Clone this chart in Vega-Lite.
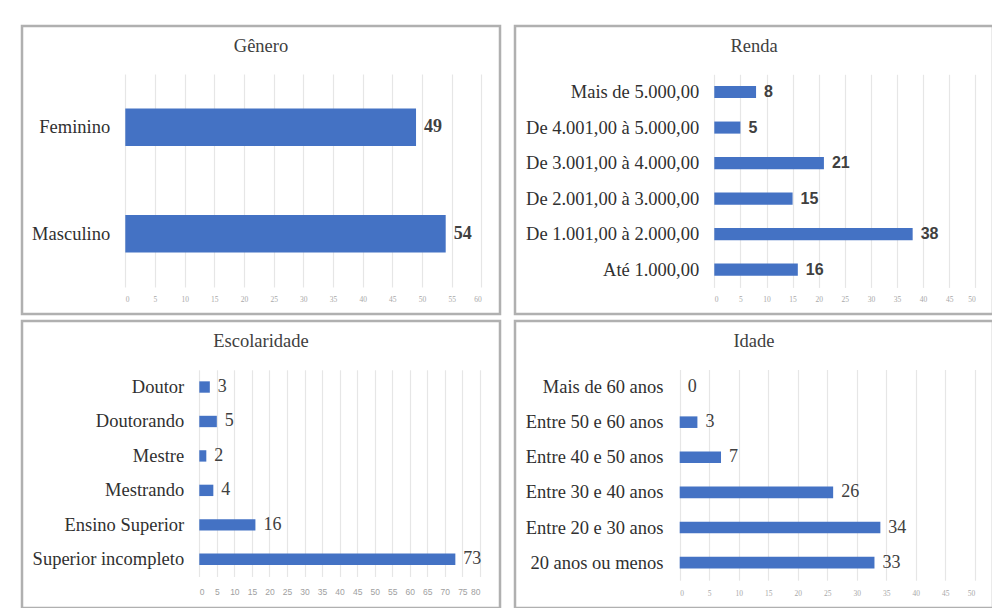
{
  "$schema": "https://vega.github.io/schema/vega-lite/v6.json",
  "padding": {"left": 20, "top": 24, "right": 0, "bottom": 0},
  "background": "white",
  "bounds": "flush",
  "config": {
    "view": {"stroke": "#b0b0b0", "strokeWidth": 2.5},
    "font": "Liberation Serif",
    "title": {"font": "Liberation Serif", "fontSize": 18.5, "fontWeight": "normal", "color": "#404040", "anchor": "middle", "frame": "group", "offset": -29}
  },
  "concat": [
    {
      "width": 478, "height": 288,
      "title": {"text": "Gênero"},
      "data": {"values": [
        {"cat": "Feminino", "n": 49},
        {"cat": "Masculino", "n": 54}
      ]},
      "encoding": {
        "y": {"field": "cat", "type": "nominal", "sort": null,
          "scale": {"range": [48, 261], "paddingInner": 0.65, "paddingOuter": 0.325},
          "axis": {"title": null, "domain": false, "ticks": false, "tickSize": 0, "offset": -91.7, "labelPadding": 4, "labelFont": "Liberation Serif", "labelFontSize": 18.5, "labelColor": "#303030", "labelLimit": 300}},
        "x": {"field": "n", "type": "quantitative",
          "scale": {"domain": [0, 60], "range": [103.3, 459.3], "nice": false},
          "axis": {"orient": "top", "title": null, "domain": false, "ticks": false, "tickSize": 0, "labelPadding": -273.7, "labelBaseline": "middle", "labelFont": "Liberation Serif", "labelFontSize": 7.5, "labelColor": "#a8a8a8", "values": [0,5,10,15,20,25,30,35,40,45,50,55,60], "grid": true, "gridColor": "#e6e6e6", "gridWidth": 1.2}}
      },
      "layer": [
        {"mark": {"type": "bar", "color": "#4472C4"}},
        {"mark": {"type": "text", "align": "left", "baseline": "middle", "dx": 8, "font": "Liberation Serif", "fontSize": 18, "fontWeight": "bold", "color": "#404040"},
         "encoding": {"text": {"field": "n", "type": "quantitative"}}}
      ]
    },
    {
      "width": 478, "height": 288,
      "title": {"text": "Renda"},
      "data": {"values": [
        {"cat": "Mais de 5.000,00", "n": 8},
        {"cat": "De 4.001,00 à 5.000,00", "n": 5},
        {"cat": "De 3.001,00 à 4.000,00", "n": 21},
        {"cat": "De 2.001,00 à 3.000,00", "n": 15},
        {"cat": "De 1.001,00 à 2.000,00", "n": 38},
        {"cat": "Até 1.000,00", "n": 16}
      ]},
      "encoding": {
        "y": {"field": "cat", "type": "nominal", "sort": null,
          "scale": {"range": [48.3, 261.4], "paddingInner": 0.66, "paddingOuter": 0.33},
          "axis": {"title": null, "domain": false, "ticks": false, "tickSize": 0, "offset": -187.7, "labelPadding": 4, "labelFont": "Liberation Serif", "labelFontSize": 18.5, "labelColor": "#303030", "labelLimit": 300}},
        "x": {"field": "n", "type": "quantitative",
          "scale": {"domain": [0, 50], "range": [199.3, 460.3], "nice": false},
          "axis": {"orient": "top", "title": null, "domain": false, "ticks": false, "tickSize": 0, "labelPadding": -273.7, "labelBaseline": "middle", "labelFont": "Liberation Serif", "labelFontSize": 7.5, "labelColor": "#a8a8a8", "values": [0,5,10,15,20,25,30,35,40,45,50], "grid": true, "gridColor": "#e6e6e6", "gridWidth": 1.2}}
      },
      "layer": [
        {"mark": {"type": "bar", "color": "#4472C4"}},
        {"mark": {"type": "text", "align": "left", "baseline": "middle", "dx": 8, "font": "Liberation Sans", "fontSize": 16, "fontWeight": "bold", "color": "#404040"},
         "encoding": {"text": {"field": "n", "type": "quantitative"}}}
      ]
    },
    {
      "width": 478, "height": 287,
      "title": {"text": "Escolaridade"},
      "data": {"values": [
        {"cat": "Doutor", "n": 3},
        {"cat": "Doutorando", "n": 5},
        {"cat": "Mestre", "n": 2},
        {"cat": "Mestrando", "n": 4},
        {"cat": "Ensino Superior", "n": 16},
        {"cat": "Superior incompleto", "n": 73}
      ]},
      "encoding": {
        "y": {"field": "cat", "type": "nominal", "sort": null,
          "scale": {"range": [48.8, 255.5], "paddingInner": 0.67, "paddingOuter": 0.335},
          "axis": {"title": null, "domain": false, "ticks": false, "tickSize": 0, "offset": -165.7, "labelPadding": 4, "labelFont": "Liberation Serif", "labelFontSize": 18.5, "labelColor": "#303030", "labelLimit": 300}},
        "x": {"field": "n", "type": "quantitative",
          "scale": {"domain": [0, 80], "range": [177.3, 457.9], "nice": false},
          "axis": {"orient": "top", "title": null, "domain": false, "ticks": false, "tickSize": 0, "labelPadding": -270.3, "labelBaseline": "middle", "labelFont": "Liberation Sans", "labelFontSize": 8.5, "labelColor": "#a0a0a0", "values": [0,5,10,15,20,25,30,35,40,45,50,55,60,65,70,75,80], "grid": true, "gridColor": "#e6e6e6", "gridWidth": 1.2}}
      },
      "layer": [
        {"mark": {"type": "bar", "color": "#4472C4"}},
        {"mark": {"type": "text", "align": "left", "baseline": "middle", "dx": 8, "font": "Liberation Serif", "fontSize": 18, "color": "#404040"},
         "encoding": {"text": {"field": "n", "type": "quantitative"}}}
      ]
    },
    {
      "width": 478, "height": 287,
      "title": {"text": "Idade"},
      "data": {"values": [
        {"cat": "Mais de 60 anos", "n": 0},
        {"cat": "Entre 50 e 60 anos", "n": 3},
        {"cat": "Entre 40 e 50 anos", "n": 7},
        {"cat": "Entre 30 e 40 anos", "n": 26},
        {"cat": "Entre 20 e 30 anos", "n": 34},
        {"cat": "20 anos ou menos", "n": 33}
      ]},
      "encoding": {
        "y": {"field": "cat", "type": "nominal", "sort": null,
          "scale": {"range": [48.5, 259.2], "paddingInner": 0.67, "paddingOuter": 0.335},
          "axis": {"title": null, "domain": false, "ticks": false, "tickSize": 0, "offset": -152, "labelPadding": 4, "labelFont": "Liberation Serif", "labelFontSize": 18.5, "labelColor": "#303030", "labelLimit": 300}},
        "x": {"field": "n", "type": "quantitative",
          "scale": {"domain": [0, 50], "range": [164.7, 459.8], "nice": false},
          "axis": {"orient": "top", "title": null, "domain": false, "ticks": false, "tickSize": 0, "labelPadding": -272, "labelBaseline": "middle", "labelFont": "Liberation Serif", "labelFontSize": 7.5, "labelColor": "#a8a8a8", "values": [0,5,10,15,20,25,30,35,40,45,50], "grid": true, "gridColor": "#e6e6e6", "gridWidth": 1.2}}
      },
      "layer": [
        {"mark": {"type": "bar", "color": "#4472C4"}},
        {"mark": {"type": "text", "align": "left", "baseline": "middle", "dx": 8, "font": "Liberation Serif", "fontSize": 18, "color": "#404040"},
         "encoding": {"text": {"field": "n", "type": "quantitative"}}}
      ]
    }
  ],
  "columns": 2,
  "spacing": {"column": 15, "row": 7}
}
